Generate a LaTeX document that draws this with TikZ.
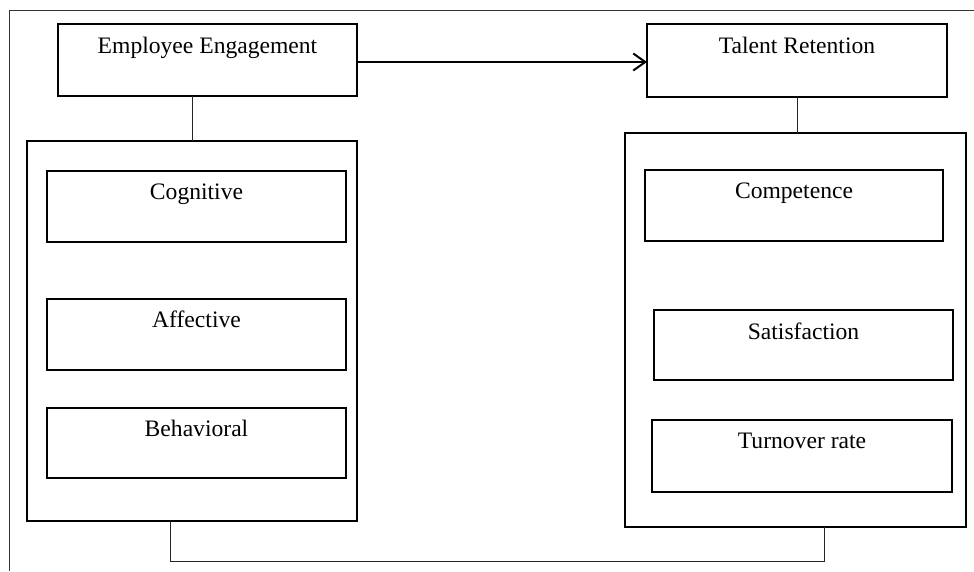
\documentclass[tikz,border=0pt]{standalone}
\usepackage{fontspec}
\setmainfont{Liberation Serif}
\usetikzlibrary{arrows.meta}
\begin{document}
\begin{tikzpicture}[x=1pt,y=-1pt,
  box/.style={draw=black, line width=2pt, rectangle, inner sep=0pt, outer sep=0pt, anchor=north west},
  lbl/.style={anchor=base, inner sep=0pt, font=\fontsize{23.6}{28}\selectfont},
  conn/.style={draw=black!85, line width=1pt},
  frameline/.style={draw=black!80, line width=1pt}]
\useasboundingbox (0,0) rectangle (974,571);
% frame
\coordinate (ftr) at (974,10);
\coordinate (ftl) at (9,10);
\coordinate (fbl) at (9,571);
\draw[frameline] (ftr) -- (ftl) -- (fbl);
% top boxes
\node[box, minimum width=299pt, minimum height=72pt] (ee) at (58,24) {};
\node[lbl] (eet) at (207.5,53) {Employee Engagement};
\node[box, minimum width=300pt, minimum height=73pt] (tr) at (647,24) {};
\node[lbl] (trt) at (797,53) {Talent Retention};
% big boxes
\node[box, minimum width=330pt, minimum height=380pt] (lbig) at (27,141) {};
\node[box, minimum width=341pt, minimum height=394pt] (rbig) at (625,133) {};
% left inner
\node[box, minimum width=299pt, minimum height=71pt] (cog) at (47,171) {};
\node[lbl] (cogt) at (196.5,199) {Cognitive};
\node[box, minimum width=299pt, minimum height=71pt] (aff) at (47,299) {};
\node[lbl] (afft) at (196.5,327) {Affective};
\node[box, minimum width=299pt, minimum height=70pt] (beh) at (47,408) {};
\node[lbl] (beht) at (196.5,436) {Behavioral};
% right inner
\node[box, minimum width=298pt, minimum height=71pt] (com) at (645,170) {};
\node[lbl] (comt) at (794,198) {Competence};
\node[box, minimum width=299pt, minimum height=70pt] (sat) at (654,310) {};
\node[lbl] (satt) at (803.5,339) {Satisfaction};
\node[box, minimum width=300pt, minimum height=72pt] (tur) at (652,420) {};
\node[lbl] (turt) at (802,448) {Turnover rate};
% connectors
\draw[conn] (lbig.north) -- (lbig.north |- ee.south);
\draw[conn] (tr.south) -- (tr.south |- rbig.north);
\draw[line width=2pt, -{Straight Barb[length=12pt,width=17pt,line width=2pt]}] ([yshift=-2pt]ee.east) -- ([yshift=-2pt]ee.east -| tr.west);
\coordinate (bl) at (170,561);
\coordinate (br) at (824,561);
\draw[conn] (lbig.south -| bl) -- (bl) -- (br) -- (rbig.south -| br);
\end{tikzpicture}
\end{document}
